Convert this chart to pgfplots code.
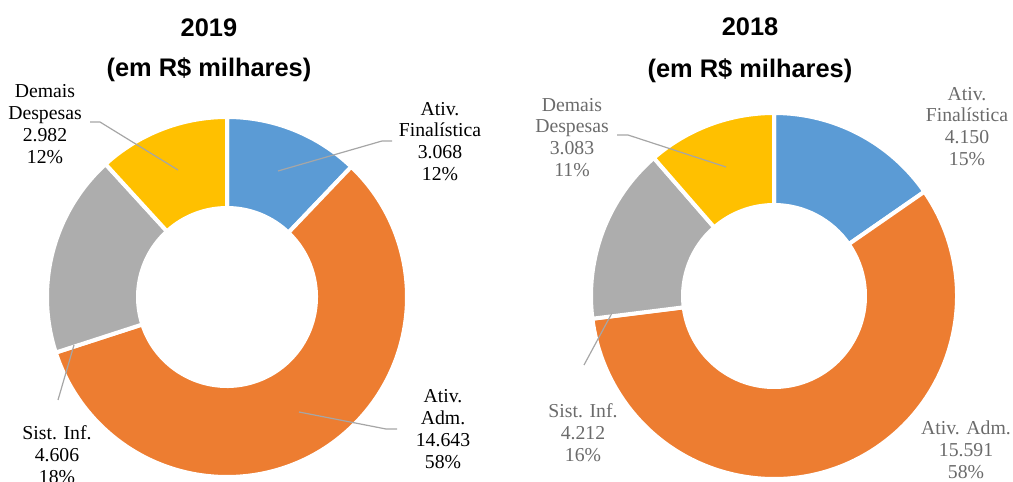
\documentclass[border=0pt]{standalone}
\usepackage{fontspec}
\setmainfont{Liberation Serif}
\newfontfamily\titlefont{Liberation Sans}
\usepackage{pgfplots}
\usepackage{pgfplotstable}
\pgfplotsset{compat=1.18}
\definecolor{cBlue}{HTML}{5B9BD5}
\definecolor{cOrange}{HTML}{ED7D31}
\definecolor{cGray}{HTML}{ADADAD}
\definecolor{cYellow}{HTML}{FFC000}
\definecolor{cLeader}{HTML}{A6A6A6}
\definecolor{cText}{HTML}{6B6B6B}

\pgfplotstableread{
cat v2019 v2018
Fin 3068 4150
Adm 14643 15591
Sist 4606 4212
Dem 2982 3083
}\donutdata

\newcommand\getval[3]{%
  \pgfplotstablegetelem{#1}{#2}\of\donutdata
  \pgfmathsetmacro#3{\pgfplotsretval/1000}}

% cx cy R r a1 a2 colour
\newcommand\sector[7]{%
  \fill[#7, draw=white, line width=4bp, line join=miter]
    (axis cs:#1,#2) ++(#5:#3) arc[start angle=#5, end angle=#6, radius=#3]
    -- ++(#6:{#4-#3}) arc[start angle=#6, end angle=#5, radius=#4] -- cycle;}

\newcommand\lbl{\fontsize{19.8}{22}\selectfont}
\newcommand\ttl{\titlefont\bfseries\fontsize{25.5}{30}\selectfont}

\begin{document}
\begin{tikzpicture}
\path[use as bounding box] (0,0) rectangle (1013bp,482bp);
% 2019
\getval{0}{v2019}\La \getval{1}{v2019}\Lb \getval{2}{v2019}\Lc \getval{3}{v2019}\Ld
\pgfmathsetmacro\Ltot{\La+\Lb+\Lc+\Ld}
\pgfmathsetmacro\LangB{90-360*\La/\Ltot}
\pgfmathsetmacro\LangC{\LangB-360*\Lb/\Ltot}
\pgfmathsetmacro\LangD{\LangC-360*\Lc/\Ltot}
% 2018
\getval{0}{v2018}\Ra \getval{1}{v2018}\Rb \getval{2}{v2018}\Rc \getval{3}{v2018}\Rd
\pgfmathsetmacro\Rtot{\Ra+\Rb+\Rc+\Rd}
\pgfmathsetmacro\RangB{90-360*\Ra/\Rtot}
\pgfmathsetmacro\RangC{\RangB-360*\Rb/\Rtot}
\pgfmathsetmacro\RangD{\RangC-360*\Rc/\Rtot}
\begin{axis}[at={(0,0)}, anchor=south west, scale only axis,
  width=1013bp, height=482bp, xmin=0, xmax=1013, ymin=0, ymax=482,
  hide axis, clip=false, disabledatascaling]
% left donut
\sector{227}{185}{180bp}{89bp}{90}{\LangB}{cBlue}
\sector{227}{185}{180bp}{89bp}{\LangB}{\LangC}{cOrange}
\sector{227}{185}{180bp}{89bp}{\LangC}{\LangD}{cGray}
\sector{227}{185}{180bp}{89bp}{\LangD}{-270}{cYellow}
% right donut
\sector{774}{186}{183bp}{91bp}{90}{\RangB}{cBlue}
\sector{774}{186}{183bp}{91bp}{\RangB}{\RangC}{cOrange}
\sector{774}{186}{183bp}{91bp}{\RangC}{\RangD}{cGray}
\sector{774}{186}{183bp}{91bp}{\RangD}{-270}{cYellow}
% leader lines
\draw[cLeader, line width=1.2bp] (axis cs:90,360) -- (axis cs:100,360) -- (axis cs:178,312);
\draw[cLeader, line width=1.2bp] (axis cs:392,341) -- (axis cs:382,341) -- (axis cs:278,311);
\draw[cLeader, line width=1.2bp] (axis cs:58,82) -- (axis cs:74,137);
\draw[cLeader, line width=1.2bp] (axis cs:397,53) -- (axis cs:386,53) -- (axis cs:299,70);
\draw[cLeader, line width=1.2bp] (axis cs:617,347) -- (axis cs:628,347) -- (axis cs:726,315);
\draw[cLeader, line width=1.2bp] (axis cs:584,117) -- (axis cs:612,169);
% titles
\node[font=\ttl, anchor=base] at (axis cs:209,445) {2019};
\node[font=\ttl, anchor=base] at (axis cs:209,405) {(em R\$ milhares)};
\node[font=\ttl, anchor=base] at (axis cs:750,446) {2018};
\node[font=\ttl, anchor=base] at (axis cs:750,404) {(em R\$ milhares)};
% labels 2019
\node[font=\lbl, align=center, inner sep=0pt] at (axis cs:45,358) {Demais\\Despesas\\2.982\\12\%};
\node[font=\lbl, align=center, inner sep=0pt] at (axis cs:440,340.5) {Ativ.\\Finalística\\3.068\\12\%};
\node[font=\lbl, align=center, inner sep=0pt] at (axis cs:57,27) {Sist. Inf.\\4.606\\18\%};
\node[font=\lbl, align=center, inner sep=0pt] at (axis cs:443,53) {Ativ.\\Adm.\\14.643\\58\%};
% labels 2018
\node[font=\lbl, text=cText, align=center, inner sep=0pt] at (axis cs:572,344.5) {Demais\\Despesas\\3.083\\11\%};
\node[font=\lbl, text=cText, align=center, inner sep=0pt] at (axis cs:967,355.5) {Ativ.\\Finalística\\4.150\\15\%};
\node[font=\lbl, text=cText, align=center, inner sep=0pt] at (axis cs:583,49) {Sist. Inf.\\4.212\\16\%};
\node[font=\lbl, text=cText, align=center, inner sep=0pt] at (axis cs:966,32) {Ativ. Adm.\\15.591\\58\%};
\end{axis}
\end{tikzpicture}
\end{document}
